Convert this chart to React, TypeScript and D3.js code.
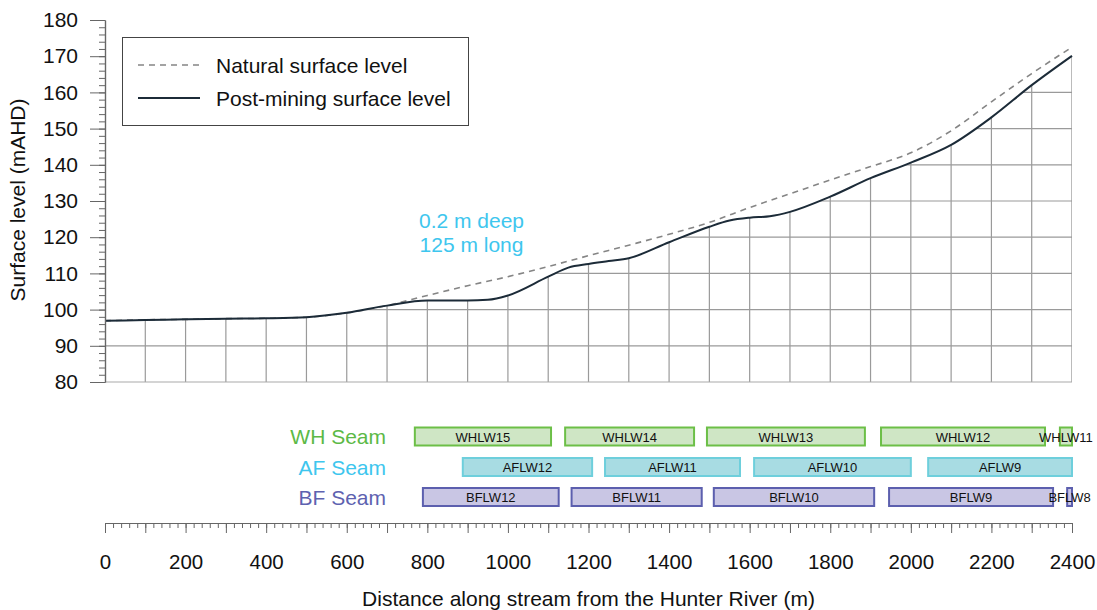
import * as React from 'react';
import * as d3 from 'd3';
import { useRef, useEffect } from 'react';

// distance along stream (m) and surface levels (mAHD)
const naturalDist = [0, 100, 200, 300, 400, 500, 600, 700, 800, 900, 1000, 1100, 1200, 1300, 1400, 1500, 1600, 1700, 1800, 1900, 2000, 2100, 2200, 2300, 2400];
const naturalLevel = [96.9, 97.2, 97.3, 97.5, 97.6, 97.9, 99.1, 101.1, 103.9, 106.6, 109.1, 111.9, 114.9, 117.8, 120.8, 124.1, 128.2, 132.0, 135.8, 139.5, 143.3, 149.4, 157.4, 165.2, 172.5];

const postDist = [0, 100, 200, 300, 400, 500, 600, 700, 800, 900, 950, 1000, 1100, 1150, 1200, 1250, 1300, 1400, 1500, 1550, 1600, 1650, 1700, 1800, 1900, 2000, 2100, 2200, 2300, 2400];
const postLevel = [96.9, 97.1, 97.3, 97.5, 97.6, 97.9, 99.1, 101.1, 102.5, 102.5, 102.7, 103.9, 109.1, 111.6, 112.6, 113.4, 114.2, 118.6, 122.9, 124.6, 125.4, 125.8, 127.0, 131.2, 136.3, 140.6, 145.5, 153.1, 162.0, 170.1];

// longwall panels (start/end distance in m)
const whPanels = ['WHLW15', 'WHLW14', 'WHLW13', 'WHLW12', 'WHLW11'];
const whStart = [769, 1142, 1494, 1926, 2370];
const whEnd = [1107, 1462, 1886, 2333, 2400];

const afPanels = ['AFLW12', 'AFLW11', 'AFLW10', 'AFLW9'];
const afStart = [888, 1241, 1611, 2043];
const afEnd = [1209, 1576, 2000, 2400];

const bfPanels = ['BFLW12', 'BFLW11', 'BFLW10', 'BFLW9', 'BFLW8'];
const bfStart = [789, 1158, 1511, 1946, 2388];
const bfEnd = [1126, 1481, 1909, 2353, 2400];

const yTicks = [80, 90, 100, 110, 120, 130, 140, 150, 160, 170, 180];
const xLabelTicks = [0, 200, 400, 600, 800, 1000, 1200, 1400, 1600, 1800, 2000, 2200, 2400];

const FONT = '"Liberation Sans", Arial, sans-serif';

const width = 1097;
const height = 610;
const marginLeft = 105;
const plotRight = 1072;
const plotTop = 20;
const plotBottom = 382;
const axisY = 523;

const seams = [
  { label: 'WH Seam', color: '#5cb946', fill: '#cfe6c5', stroke: '#6cbf47', cy: 436.5, names: whPanels, start: whStart, end: whEnd },
  { label: 'AF Seam', color: '#3ec6ee', fill: '#a8dce3', stroke: '#6ecfdc', cy: 467, names: afPanels, start: afStart, end: afEnd },
  { label: 'BF Seam', color: '#5e62b0', fill: '#c9c6e4', stroke: '#5c5fae', cy: 497, names: bfPanels, start: bfStart, end: bfEnd },
];

const App: React.FC = () => {
  const gy = useRef<SVGGElement>(null);
  const gyMinor = useRef<SVGGElement>(null);
  const gx = useRef<SVGGElement>(null);
  const gxMinor = useRef<SVGGElement>(null);

  const x = d3.scaleLinear().domain([0, 2400]).range([marginLeft, plotRight]);
  const y = d3.scaleLinear().domain([80, 180]).range([plotBottom, plotTop]);

  const natural = naturalDist.map((d, i) => [d, naturalLevel[i]] as [number, number]);
  const post = postDist.map((d, i) => [d, postLevel[i]] as [number, number]);

  const line = d3.line<[number, number]>().x((d) => x(d[0])).y((d) => y(d[1])).curve(d3.curveMonotoneX);
  const area = d3.area<[number, number]>().x((d) => x(d[0])).y0(y(80)).y1((d) => y(d[1])).curve(d3.curveMonotoneX);

  useEffect(() => {
    const style = (sel: d3.Selection<SVGGElement, unknown, null, undefined>, fs: number) => {
      sel.selectAll('path.domain').attr('stroke', '#666').attr('stroke-width', 1.2);
      sel.selectAll('.tick line').attr('stroke', '#666').attr('stroke-width', 1);
      sel.selectAll('.tick text').attr('font-family', FONT).attr('font-size', fs).attr('fill', '#111');
    };
    if (gy.current) {
      const s = d3.select(gy.current);
      s.call(d3.axisLeft(y).tickValues(yTicks).tickSize(15).tickSizeOuter(0).tickPadding(12).tickFormat(d3.format('d')));
      style(s, 21);
    }
    if (gyMinor.current) {
      const s = d3.select(gyMinor.current);
      s.call(d3.axisLeft(y).tickValues(d3.range(80, 181, 2)).tickSize(6).tickSizeOuter(0).tickFormat(() => ''));
      style(s, 21);
    }
    if (gx.current) {
      const s = d3.select(gx.current);
      s.call(
        d3.axisBottom(x)
          .tickValues(d3.range(0, 2401, 100))
          .tickSize(10)
          .tickSizeOuter(0)
          .tickPadding(21)
          .tickFormat((d) => (xLabelTicks.includes(+d) ? String(d) : ''))
      );
      style(s, 20.5);
    }
    if (gxMinor.current) {
      const s = d3.select(gxMinor.current);
      s.call(d3.axisBottom(x).tickValues(d3.range(0, 2401, 20)).tickSize(5).tickSizeOuter(0).tickFormat(() => ''));
      style(s, 20);
    }
  });

  const vGrid = d3.range(0, 2401, 100);
  const hGrid = d3.range(90, 181, 10);

  return (
    <svg width={width} height={height} style={{ position: 'absolute', left: 0, top: 0, background: '#fff' }}>
      <defs>
        <clipPath id="under">
          <path d={area(post) || ''} />
        </clipPath>
      </defs>

      <g clipPath="url(#under)" stroke="#9a9a9a" strokeWidth={1.2}>
        {vGrid.map((d) => (
          <line key={'v' + d} x1={x(d)} x2={x(d)} y1={y(80)} y2={y(180)} stroke={d === 2400 ? '#bbb' : '#9a9a9a'} strokeWidth={d === 2400 ? 2 : 1.2} />
        ))}
        {hGrid.map((d) => (
          <line key={'h' + d} x1={x(0)} x2={x(2400)} y1={y(d)} y2={y(d)} />
        ))}
      </g>
      <line x1={x(0)} x2={x(2400)} y1={y(80)} y2={y(80)} stroke="#aaa" strokeWidth={1.2} />

      <path d={line(natural) || ''} fill="none" stroke="#858585" strokeWidth={1.6} strokeDasharray="6,5" />
      <path d={line(post) || ''} fill="none" stroke="#1c2b38" strokeWidth={2} />

      <g ref={gy} transform={`translate(${marginLeft},0)`} />
      <g ref={gyMinor} transform={`translate(${marginLeft},0)`} />
      <text transform={`translate(25,${(plotTop + plotBottom) / 2 - 1}) rotate(-90)`} textAnchor="middle" fontFamily={FONT} fontSize={21} fill="#111">
        Surface level (mAHD)
      </text>

      <g>
        <rect x={122.5} y={37.5} width={346} height={88} fill="#fff" stroke="#444" strokeWidth={1} />
        <line x1={138} x2={200} y1={65} y2={65} stroke="#858585" strokeWidth={1.6} strokeDasharray="6,5" />
        <text x={216} y={72.5} fontFamily={FONT} fontSize={21} fill="#111">Natural surface level</text>
        <line x1={138} x2={200} y1={98} y2={98} stroke="#1c2b38" strokeWidth={2} />
        <text x={216} y={105.5} fontFamily={FONT} fontSize={21} fill="#111">Post-mining surface level</text>
      </g>

      <g fontFamily={FONT} fontSize={21} fill="#3ec6ee" textAnchor="middle">
        <text x={471.5} y={227.5}>0.2 m deep</text>
        <text x={471.5} y={251.5}>125 m long</text>
      </g>

      {seams.map((s) => (
        <g key={s.label}>
          <text x={386} y={s.cy + 7.5} textAnchor="end" fontFamily={FONT} fontSize={21} fill={s.color}>
            {s.label}
          </text>
          {s.names.map((n, i) => (
            <g key={n}>
              <rect x={x(s.start[i])} y={s.cy - 9} width={x(s.end[i]) - x(s.start[i])} height={18} fill={s.fill} stroke={s.stroke} strokeWidth={2} />
              <text x={(x(s.start[i]) + x(s.end[i])) / 2} y={s.cy + 5} textAnchor="middle" fontFamily={FONT} fontSize={13} fill="#111">
                {n}
              </text>
            </g>
          ))}
        </g>
      ))}

      <g ref={gx} transform={`translate(0,${axisY})`} />
      <g ref={gxMinor} transform={`translate(0,${axisY})`} />
      <text x={(marginLeft + plotRight) / 2} y={606} textAnchor="middle" fontFamily={FONT} fontSize={21} fill="#111">
        Distance along stream from the Hunter River (m)
      </text>
    </svg>
  );
};

export default App;
